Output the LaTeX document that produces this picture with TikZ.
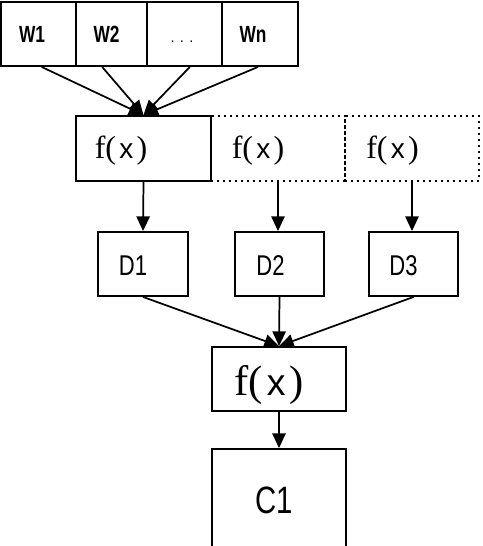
\documentclass[tikz,border=0pt]{standalone}
\usepackage{fontspec}
\usepackage{graphicx}
\setsansfont{Liberation Sans}
\setmainfont{Liberation Serif}
\usetikzlibrary{arrows.meta}
\newcommand\talltxt[2]{\scalebox{1}[#1]{#2}}
\newcommand\fxtxt{f(\kern0.1em{\sffamily\scalebox{0.875}{x}}\kern0.1em)}
\begin{document}
\begin{tikzpicture}[x=0.75pt,y=-0.75pt,
  box/.style={draw, line width=1.4pt, inner sep=0pt, minimum height=48pt},
  dotbox/.style={draw, line width=1.3pt, dash pattern=on 1.3pt off 3.2pt, inner sep=0pt, minimum height=48.75pt, minimum width=100.5pt},
  conn/.style={line width=1.3pt, -{Triangle[length=11pt,width=10pt]}},
  wtxt/.style={inner sep=0pt, anchor=base, font=\fontsize{13pt}{15pt}\sffamily\bfseries},
  dtxt/.style={inner sep=0pt, anchor=base, font=\fontsize{16.5pt}{19pt}\sffamily},
  ctxt/.style={inner sep=0pt, anchor=base, font=\fontsize{22pt}{26pt}\sffamily},
  ftxt/.style={inner sep=0pt, anchor=base, font=\fontsize{24pt}{28pt}\rmfamily},
  fbtxt/.style={inner sep=0pt, anchor=base, font=\fontsize{32pt}{36pt}\rmfamily}]
\useasboundingbox (0,0) rectangle (482,546);
\clip (0,0) rectangle (482,546);
\fill[white] (0,0) rectangle (482,546);

% top row
\node[box, minimum width=56.25pt] (w1) at (38.5,34) {};
\node[box, minimum width=53.25pt] (w2) at (111.5,34) {};
\node[box, minimum width=56.25pt] (w3) at (184.5,34) {};
\node[box, minimum width=57pt] (wn) at (260,34) {};
\node[wtxt] (w1t) at (32,42.5) {\talltxt{1.35}{W1}};
\node[wtxt] (w2t) at (106.5,42.5) {\talltxt{1.35}{W2}};
\node[wtxt, font=\fontsize{11pt}{12pt}\sffamily] (w3t) at (182,42.5) {.\kern4pt.\kern4pt.};
\node[wtxt] (wnt) at (253,42.5) {\talltxt{1.35}{Wn}};

% f(x) row
\node[box, minimum width=101.25pt, minimum height=48.75pt] (f1) at (143.5,148.5) {};
\node[dotbox] (f2) at (278,148.5) {};
\node[dotbox] (f3) at (412,148.5) {};
\node[ftxt] (f1t) at (121,158.7) {\fxtxt};
\node[ftxt] (f2t) at (258,158.7) {\fxtxt};
\node[ftxt] (f3t) at (392.5,158.7) {\fxtxt};

% D row
\node[box, minimum width=67.5pt] (d1) at (143,264) {};
\node[box, minimum width=66.75pt] (d2) at (279.5,264) {};
\node[box, minimum width=66.75pt] (d3) at (413.5,264) {};
\node[dtxt] (d1t) at (133,275) {\talltxt{1.3}{D1}};
\node[dtxt] (d2t) at (270.5,275) {\talltxt{1.3}{D2}};
\node[dtxt] (d3t) at (403.5,275) {\talltxt{1.3}{D3}};

% bottom f(x) and C1
\node[box, minimum width=100.5pt] (fb) at (279,379) {};
\node[fbtxt] (fbt) at (269,395) {\fxtxt};
\node[box, minimum width=100.5pt, minimum height=97.5pt] (c1) at (279,514) {};
\node[ctxt] (c1t) at (274.5,513) {\talltxt{1.3}{C1}};

% connectors
\draw[conn] ([xshift=2.4pt]w1.south) -- (f1.north);
\draw[conn] ([xshift=-7pt]w2.south) -- (f1.north);
\draw[conn] ([xshift=4pt]w3.south) -- (f1.north);
\draw[conn] ([xshift=-1.5pt]wn.south) -- (f1.north);
\draw[conn] (f1.south) -- (d1.north);
\draw[conn] (f2.south) -- (f2.south |- d2.north);
\draw[conn] (f3.south) -- (f3.south |- d3.north);
\draw[conn] (d1.south) -- (fb.north);
\draw[conn] (d2.south) -- (fb.north);
\draw[conn] (d3.south) -- (fb.north);
\draw[conn] (fb.south) -- (c1.north);
\end{tikzpicture}
\end{document}
